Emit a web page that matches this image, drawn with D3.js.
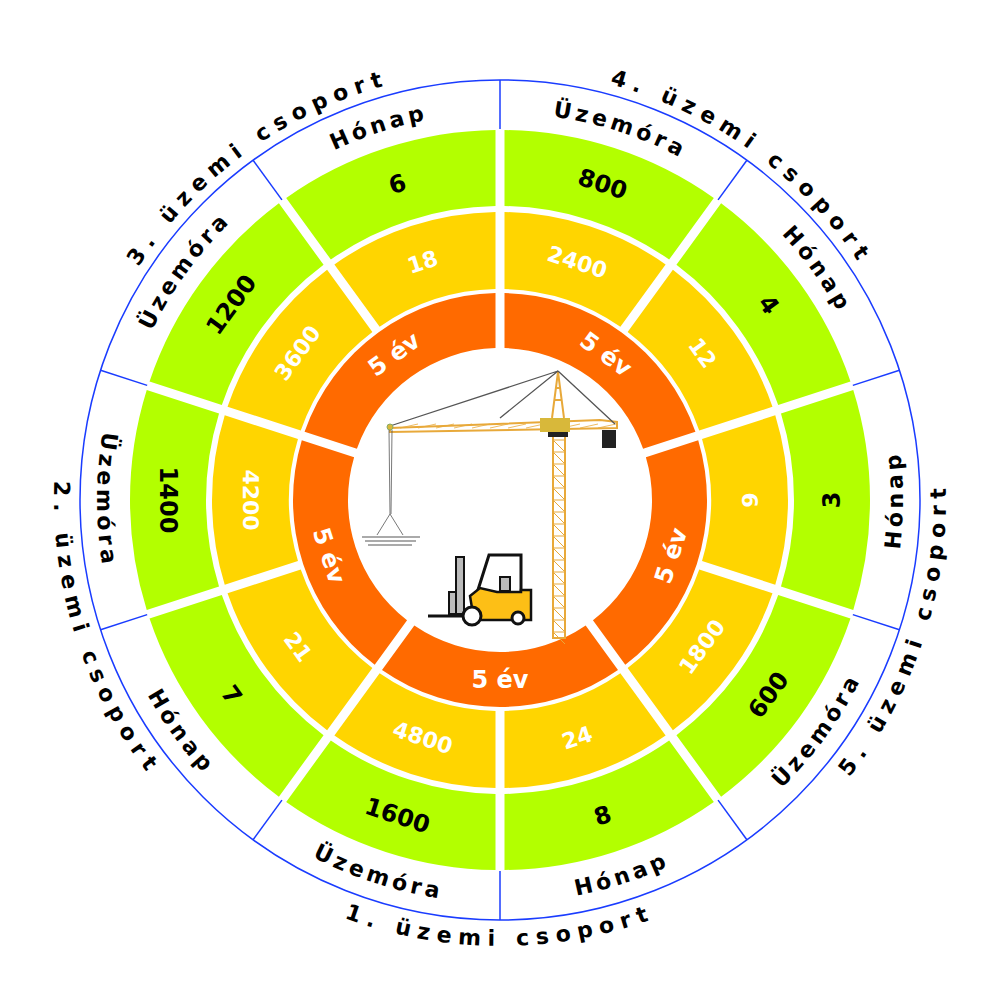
<!DOCTYPE html>
<html>
<head>
<meta charset="utf-8">
<title>Üzemi csoportok</title>
<script src="https://d3js.org/d3.v7.min.js"></script>
<style>body{margin:0;background:#fff}</style>
</head>
<body>
<div id="chart"></div>
<script>
  // groups in clockwise order starting at the top (0 deg)
  const groups = ["4. üzemi csoport", "5. üzemi csoport", "1. üzemi csoport", "2. üzemi csoport", "3. üzemi csoport"];
  const flipped = [false, true, true, true, false];
  const innerLabels = ["5 év", "5 év", "5 év", "5 év", "5 év"];
  // two sub segments per group, clockwise
  const segLabels = ["Üzemóra", "Hónap", "Hónap", "Üzemóra", "Hónap", "Üzemóra", "Hónap", "Üzemóra", "Üzemóra", "Hónap"];
  const greenValues = [800, 4, 3, 600, 8, 1600, 7, 1400, 1200, 6];
  const yellowValues = [2400, 12, 9, 1800, 24, 4800, 21, 4200, 3600, 18];

  const W = 1000, H = 1000, cx = 500, cy = 500;
  const svg = d3.select("#chart").append("svg").attr("width", W).attr("height", H);
  const g = svg.append("g").attr("transform", `translate(${cx},${cy})`);
  const font = "DejaVu Sans, sans-serif";

  const rad = d => d * Math.PI / 180;
  const groupAngle = d3.scaleLinear().domain([0, groups.length]).range([0, 360]);
  const segAngle = d3.scaleLinear().domain([0, segLabels.length]).range([0, 360]);

  const arc = d3.arc().padRadius(400).padAngle(9 / 400);

  function ring(values, scale, r0, r1, fill) {
    g.selectAll(null).data(values).enter().append("path")
      .attr("d", (d, i) => arc({innerRadius: r0, outerRadius: r1,
        startAngle: rad(scale(i)), endAngle: rad(scale(i + 1))}))
      .attr("fill", fill);
  }
  ring(innerLabels, groupAngle, 152, 207, "#ff6a00");
  ring(yellowValues, segAngle, 211, 288, "#ffd500");
  ring(greenValues, segAngle, 294, 370, "#b3ff00");

  // straight rotated labels
  function radialText(values, scale, r, fill, size, groupOf) {
    g.selectAll(null).data(values).enter().append("text")
      .attr("transform", (d, i) => {
        const a = scale(i + 0.5);
        return `rotate(${a}) translate(0,${-r})` + (flipped[groupOf(i)] ? " rotate(180)" : "");
      })
      .attr("text-anchor", "middle").attr("dominant-baseline", "central")
      .attr("font-family", font).attr("font-weight", "bold").attr("font-size", size)
      .attr("fill", fill).text(d => d);
  }
  radialText(innerLabels, groupAngle, 180, "#fff", 24, i => i);
  radialText(yellowValues, segAngle, 250, "#fff", 22, i => Math.floor(i / 2));
  radialText(greenValues, segAngle, 332, "#000", 24, i => Math.floor(i / 2));

  // outer blue ring
  g.append("circle").attr("r", 420).attr("fill", "none").attr("stroke", "#1a3cff").attr("stroke-width", 1.5);
  g.selectAll(null).data(d3.range(segLabels.length)).enter().append("line")
    .attr("x1", i => 371 * Math.sin(rad(segAngle(i)))).attr("y1", i => -371 * Math.cos(rad(segAngle(i))))
    .attr("x2", i => 420 * Math.sin(rad(segAngle(i)))).attr("y2", i => -420 * Math.cos(rad(segAngle(i))))
    .attr("stroke", "#1a3cff").attr("stroke-width", 1.5);

  // curved text
  const defs = svg.append("defs");
  function arcPath(r, a0, a1, flip) {
    const p = a => [r * Math.sin(rad(a)), -r * Math.cos(rad(a))];
    if (!flip) {
      const s = p(a0), e = p(a1);
      return `M${s[0]},${s[1]} A${r},${r} 0 0 1 ${e[0]},${e[1]}`;
    }
    const s = p(a1), e = p(a0);
    return `M${s[0]},${s[1]} A${r},${r} 0 0 0 ${e[0]},${e[1]}`;
  }
  function curvedText(values, scale, rc, size, spacing, groupOf, id) {
    values.forEach((d, i) => {
      const flip = flipped[groupOf(i)];
      const r = flip ? rc + size * 0.36 : rc - size * 0.36;
      defs.append("path").attr("id", `${id}${i}`)
        .attr("d", arcPath(r, scale(i) - 40, scale(i + 1) + 40, flip));
      g.append("text").attr("font-family", font).attr("font-weight", "bold")
        .attr("font-size", size).attr("letter-spacing", spacing).attr("fill", "#000")
        .append("textPath").attr("href", `#${id}${i}`)
        .attr("startOffset", "50%").attr("text-anchor", "middle").text(d);
    });
  }
  curvedText(segLabels, segAngle, 395, 22, 4, i => Math.floor(i / 2), "seg");
  curvedText(groups.map(d => d.replace(" ", "  ")), groupAngle, 438, 22, 7, i => i, "grp");

  // center illustration: tower crane
  const ill = svg.append("g");
  const gold = "#e8a93a";
  ill.append("rect").attr("x", 553).attr("y", 432).attr("width", 12).attr("height", 206)
    .attr("fill", "none").attr("stroke", gold).attr("stroke-width", 2);
  for (let y = 440; y < 636; y += 12) {
    ill.append("line").attr("x1", 553).attr("x2", 565).attr("y1", y).attr("y2", y + 12)
      .attr("stroke", gold).attr("stroke-width", 1);
    ill.append("line").attr("x1", 553).attr("x2", 565).attr("y1", y).attr("y2", y)
      .attr("stroke", gold).attr("stroke-width", 1);
  }
  ill.append("path").attr("d", "M552,418 L558,372 L564,418 M554,400 L562,400 M555,388 L561,388")
    .attr("fill", "none").attr("stroke", gold).attr("stroke-width", 2);
  ill.append("path").attr("d", "M390,428 L600,420 L617,422 L617,428 L390,432 Z")
    .attr("fill", "none").attr("stroke", gold).attr("stroke-width", 2);
  for (let x = 400; x < 612; x += 18) {
    ill.append("line").attr("x1", x).attr("x2", x + 18).attr("y1", 428).attr("y2", 424)
      .attr("stroke", gold).attr("stroke-width", 0.8);
  }
  ill.append("path").attr("d", "M558,371 L390,426 M558,371 L500,418 M558,371 L615,424")
    .attr("fill", "none").attr("stroke", "#555").attr("stroke-width", 1.3);
  ill.append("rect").attr("x", 540).attr("y", 418).attr("width", 30).attr("height", 14).attr("fill", "#d8b83a");
  ill.append("rect").attr("x", 548).attr("y", 432).attr("width", 20).attr("height", 5).attr("fill", "#222");
  ill.append("rect").attr("x", 602).attr("y", 430).attr("width", 14).attr("height", 18).attr("fill", "#222");
  ill.append("circle").attr("cx", 390).attr("cy", 427).attr("r", 3).attr("fill", "#d8b83a").attr("stroke", "#8a6").attr("stroke-width", 1);
  ill.append("path").attr("d", "M389,430 L390,514 M392,430 L391,514 M390,514 L377,535 M390,514 L403,535")
    .attr("fill", "none").attr("stroke", "#555").attr("stroke-width", 0.8);
  [537, 541, 545].forEach((y, i) => ill.append("line").attr("x1", 362 + i * 3).attr("x2", 420 - i * 4)
    .attr("y1", y).attr("y2", y).attr("stroke", "#aaa").attr("stroke-width", 2));

  // forklift
  ill.append("rect").attr("x", 456).attr("y", 557).attr("width", 8).attr("height", 57).attr("fill", "#bbb").attr("stroke", "#111").attr("stroke-width", 2);
  ill.append("rect").attr("x", 449).attr("y", 592).attr("width", 7).attr("height", 22).attr("fill", "#bbb").attr("stroke", "#111").attr("stroke-width", 2);
  ill.append("line").attr("x1", 428).attr("x2", 470).attr("y1", 616).attr("y2", 616).attr("stroke", "#111").attr("stroke-width", 3);
  ill.append("path").attr("d", "M477,593 L489,555 L521,555 L521,592").attr("fill", "none").attr("stroke", "#111").attr("stroke-width", 3);
  ill.append("path").attr("d", "M470,596 L480,588 L497,592 L521,592 L521,590 L531,590 L531,620 L474,620 Z")
    .attr("fill", "#fdbf16").attr("stroke", "#111").attr("stroke-width", 2.5);
  ill.append("rect").attr("x", 500).attr("y", 577).attr("width", 10).attr("height", 14).attr("fill", "#bbb").attr("stroke", "#111").attr("stroke-width", 2);
  ill.append("circle").attr("cx", 472).attr("cy", 616).attr("r", 9).attr("fill", "#fff").attr("stroke", "#111").attr("stroke-width", 3);
  ill.append("circle").attr("cx", 518).attr("cy", 618).attr("r", 6).attr("fill", "#fff").attr("stroke", "#111").attr("stroke-width", 3);
</script>
</body>
</html>
